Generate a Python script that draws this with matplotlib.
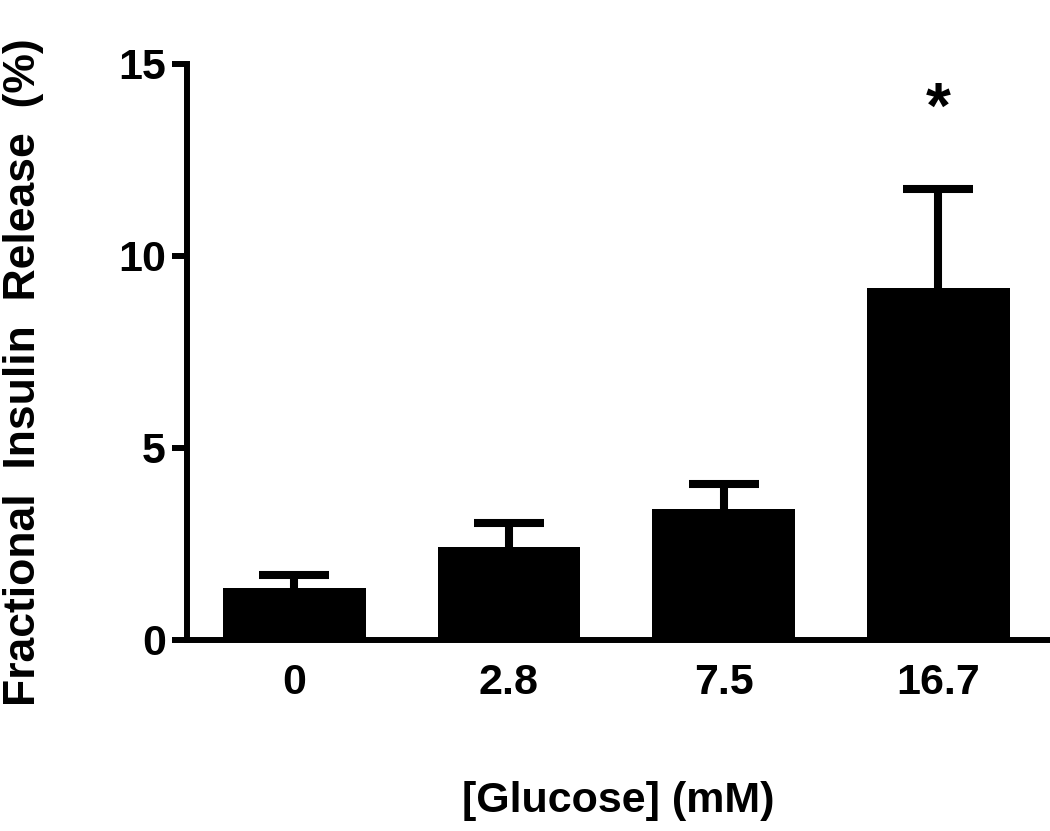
import matplotlib.pyplot as plt

glucose = ["0", "2.8", "7.5", "16.7"]
release = [1.35, 2.42, 3.40, 9.17]
sem = [0.34, 0.63, 0.65, 2.57]
marks = ["", "", "", "*"]

plt.rcParams["font.family"] = ["Liberation Sans", "DejaVu Sans"]
plt.rcParams["font.weight"] = "bold"

fig = plt.figure(figsize=(10.5, 8.31), dpi=100)
ax = fig.add_axes([0.178, 0.23, 0.822, 0.693])

x = list(range(len(glucose)))
ax.bar(x, release, width=0.665, color="black", zorder=2)
eb = ax.errorbar(x, release, yerr=[[0] * len(sem), sem], fmt="none",
                 ecolor="black", elinewidth=5.8, capsize=25.5, capthick=5.8, zorder=1)
# only the upper cap should show
for cap in eb[1]:
    if list(cap.get_ydata()) == list(release):
        cap.set_visible(False)

for xi, top, m in zip(x, [r + s for r, s in zip(release, sem)], marks):
    if m:
        ax.text(xi, top + 2.05, m, ha="center", va="center", fontsize=46, fontweight="bold")

ax.set_xlim(-0.5, 3.52)
ax.set_ylim(0, 15)
ax.set_yticks([0, 5, 10, 15])
ax.set_xticks(x)
ax.set_xticklabels(glucose)

for s in ["top", "right"]:
    ax.spines[s].set_visible(False)
for s in ["left", "bottom"]:
    ax.spines[s].set_linewidth(4.3)
    ax.spines[s].set_capstyle("projecting")

ax.tick_params(axis="y", length=11, width=4.3, labelsize=31, pad=4)
ax.tick_params(axis="x", length=0, labelsize=31, pad=17)

ax.set_ylabel("Fractional  Insulin  Release  (%)", fontsize=32, fontweight="bold")
ax.yaxis.set_label_coords(-0.166, 0.465)
ax.set_xlabel("[Glucose] (mM)", fontsize=31, fontweight="bold", labelpad=56)

plt.savefig("out.png", dpi=100)
plt.close()
